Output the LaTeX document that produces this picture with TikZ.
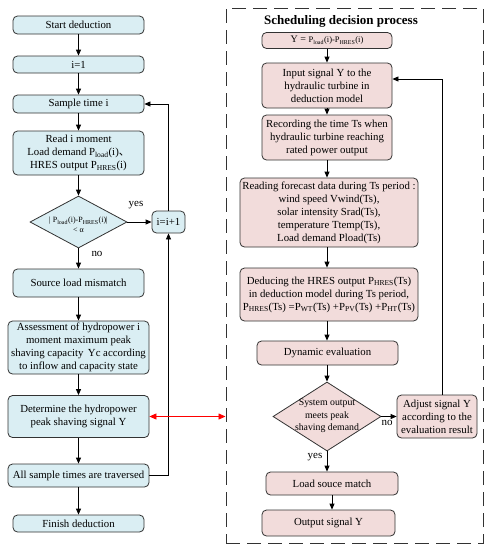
\documentclass[tikz,border=0pt]{standalone}
\usepackage{fontspec}
\setmainfont{Liberation Serif}
\newfontfamily\cjkfont{Noto Sans CJK SC}
\usetikzlibrary{arrows.meta,shapes.geometric}
\definecolor{bluefill}{RGB}{218,238,243}
\definecolor{pinkfill}{RGB}{242,220,219}
\definecolor{edgec}{RGB}{50,50,50}
\begin{document}
\begin{tikzpicture}[x=1pt,y=-1pt,
 box/.style={draw=edgec,line width=0.8pt,rounded corners=4.5pt,align=center,inner sep=1pt,font=\fontsize{10.8}{13}\selectfont},
 bbox/.style={box,fill=bluefill},
 pbox/.style={box,fill=pinkfill},
 dia/.style={diamond,draw=edgec,line width=0.8pt,inner sep=0},
 arr/.style={-{Triangle[length=6pt,width=5pt]},line width=0.8pt},
 lbl/.style={font=\fontsize{11}{13}\selectfont,inner sep=0},
]
\useasboundingbox (0,0) rectangle (490,550);

% ---------- left column ----------
\node[bbox,minimum width=131,minimum height=18] (start) at (78.5,25) {Start deduction};
\node[bbox,minimum width=131,minimum height=17] (i1) at (78.5,64.5) {i=1};
\node[bbox,minimum width=131,minimum height=18] (sample) at (78.5,104) {Sample time i};
\node[bbox,minimum width=131,minimum height=44] (read) at (78.5,153) {Read i moment\\Load demand P\textsubscript{load}(i){\cjkfont 、}\\HRES output P\textsubscript{HRES}(i)};
\node[dia,fill=bluefill,minimum width=97,minimum height=52] (d1) at (78.5,222) {};
\node[align=center,inner sep=0,font=\fontsize{8}{9.5}\selectfont] (d1t) at (78.5,225) {| P\textsubscript{load}(i)-P\textsubscript{HRES}(i)|\\< α};
\node[bbox,minimum width=33,minimum height=22] (inc) at (168.5,222) {i=i+1};
\node[lbl] (yes1) at (136,205) {yes};
\node[lbl] (no1) at (97,254) {no};
\node[bbox,minimum width=131,minimum height=28] (mis) at (78.5,283) {Source load mismatch};
\node[bbox,minimum width=141,minimum height=53] (assess) at (78.5,347.5) {Assessment of hydropower i\\moment maximum peak\\shaving capacity\, Yc according\\to inflow and capacity state};
\node[bbox,minimum width=141,minimum height=42] (det) at (78.5,416.5) {Determine the hydropower\\peak shaving signal Y};
\node[bbox,minimum width=141,minimum height=23] (all) at (78.5,475.5) {All sample times are traversed};
\node[bbox,minimum width=131,minimum height=17] (fin) at (78.5,523.5) {Finish deduction};

\draw[arr] (start) -- (i1);
\draw[arr] (i1) -- (sample);
\draw[arr] (sample) -- (read);
\draw[arr] (read) -- (d1.north);
\draw[arr] (d1.east) -- (inc.west);
\draw[arr] (d1.south) -- (mis);
\draw[arr] (mis) -- (assess);
\draw[arr] (assess) -- (det);
\draw[arr] (det) -- (all);
\draw[arr] (all) -- (fin);
\draw[arr] (all.east) -| (inc.south);
\draw[arr] (inc.north) |- (sample.east);

% ---------- right frame ----------
\node[draw=edgec,line width=1pt,dash pattern=on 14pt off 7pt,minimum width=257,minimum height=535,inner sep=0] (frame) at (354.5,275.5) {};
\node[font=\bfseries\fontsize{13}{15}\selectfont,inner sep=0] (title) at (341,21) {Scheduling decision process};

\node[pbox,minimum width=130,minimum height=16] (Y) at (327,40.5) {{\fontsize{10}{12}\selectfont Y =} {\fontsize{8.5}{10}\selectfont P\textsubscript{load}(i)-P\textsubscript{HRES}(i)}};
\node[pbox,minimum width=130,minimum height=45] (inp) at (327,85.5) {Input signal Y to the\\hydraulic turbine in\\deduction model};
\node[pbox,minimum width=130,minimum height=45] (rec) at (327,137.5) {Recording the time Ts when\\hydraulic turbine reaching\\rated power output};
\node[pbox,minimum width=178,minimum height=69] (rd) at (329,212.5) {Reading forecast data during Ts period :\\wind speed Vwind(Ts),\\solar intensity Srad(Ts),\\temperature Ttemp(Ts),\\Load demand Pload(Ts)};
\node[pbox,minimum width=178,minimum height=53] (ded) at (329,294.5) {Deducing the HRES output P\textsubscript{HRES}(Ts)\\in deduction model during Ts period,\\P\textsubscript{HRES}(Ts) =P\textsubscript{WT}(Ts) +P\textsubscript{PV}(Ts) +P\textsubscript{HT}(Ts)};
\node[pbox,minimum width=141,minimum height=24] (dyn) at (327.5,353) {Dynamic evaluation};
\node[dia,fill=pinkfill,minimum width=108,minimum height=69] (d2) at (327,416.5) {};
\node[align=center,inner sep=0,font=\fontsize{9.8}{12.5}\selectfont] (d2t) at (327,416) {System output\\meets peak\\shaving demand};
\node[pbox,minimum width=80,minimum height=43] (adj) at (437,416.5) {Adjust signal Y\\according to the\\evaluation result};
\node[lbl] (no2) at (387,423) {no};
\node[lbl] (yes2) at (315,457) {yes};
\node[pbox,minimum width=132,minimum height=23] (lm) at (332,483.5) {Load souce match};
\node[pbox,minimum width=133,minimum height=26] (out) at (328.5,523) {Output signal Y};

\draw[arr] (Y.south) -- (Y.south |- inp.north);
\draw[arr] (inp) -- (rec);
\draw[arr] (rec.south) -- (rec.south |- rd.north);
\draw[arr] (rd.south -| rec.south) -- (rec.south |- ded.north);
\draw[arr] (ded.south -| rec.south) -- (rec.south |- dyn.north);
\draw[arr] (dyn.south -| d2.north) -- (d2.north);
\draw[arr] (d2.east) -- (adj.west);
\draw[arr] (d2.south) -- (d2.south |- lm.north);
\draw[arr] (lm.south) -- (lm.south |- out.north);
\draw[arr] ([xshift=5pt]adj.north) |- ([yshift=6.5pt]inp.east);

% ---------- link ----------
\draw[red,line width=0.8pt,{Triangle[length=7pt,width=6pt]}-{Triangle[length=7pt,width=6pt]}] (det.east) -- (det.east -| frame.west);
\end{tikzpicture}
\end{document}
